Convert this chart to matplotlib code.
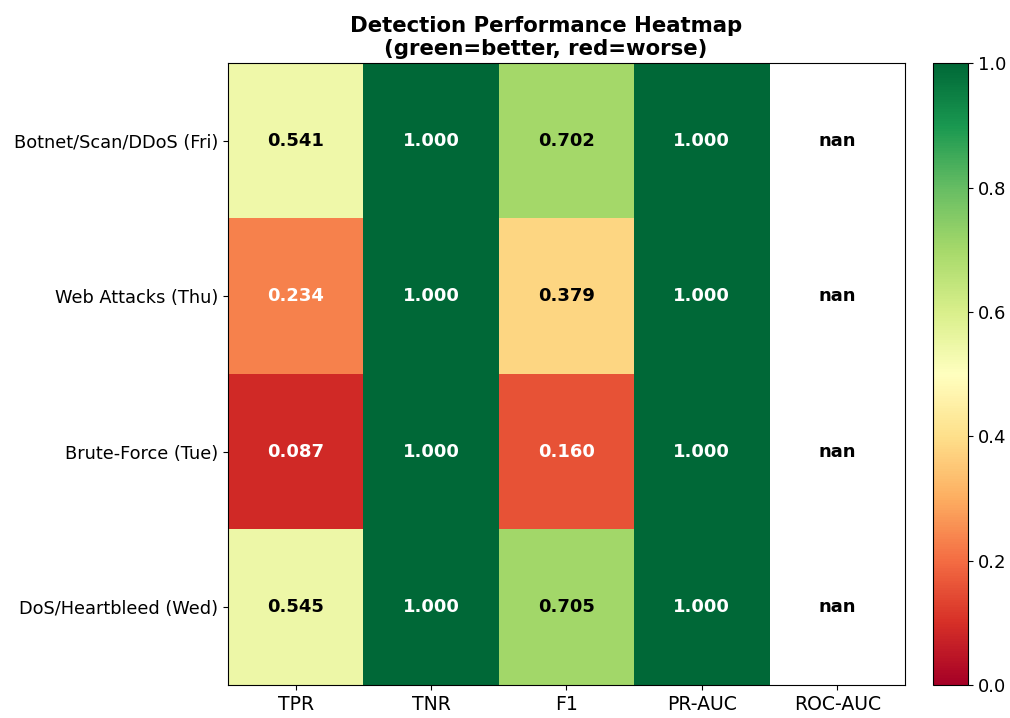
import numpy as np
import matplotlib
matplotlib.use("Agg")
import matplotlib.pyplot as plt

datasets = ["Botnet/Scan/DDoS (Fri)", "Web Attacks (Thu)", "Brute-Force (Tue)", "DoS/Heartbleed (Wed)"]
metrics = ["TPR", "TNR", "F1", "PR-AUC", "ROC-AUC"]
tpr = [0.541, 0.234, 0.087, 0.545]
tnr = [1.000, 1.000, 1.000, 1.000]
f1 = [0.702, 0.379, 0.160, 0.705]
pr_auc = [1.000, 1.000, 1.000, 1.000]
roc_auc = [np.nan, np.nan, np.nan, np.nan]

values = np.column_stack([tpr, tnr, f1, pr_auc, roc_auc])

fig = plt.figure(figsize=(10.1, 7.18), dpi=100)
ax = fig.add_axes([0.2257, 0.046, 0.6703, 0.866])
cax = fig.add_axes([0.9238, 0.046, 0.035, 0.866])

im = ax.imshow(values, cmap="RdYlGn", vmin=0, vmax=1, aspect="auto")
ax.set_xticks(range(len(metrics)))
ax.set_xticklabels(metrics, fontsize=13.6)
ax.set_yticks(range(len(datasets)))
ax.set_yticklabels(datasets, fontsize=12.8)
ax.set_title("Detection Performance Heatmap\n(green=better, red=worse)",
             fontsize=15.3, fontweight="bold", pad=6, x=0.47)

# value labels, white on the dark ends of the colormap
for i in range(values.shape[0]):
    for j in range(values.shape[1]):
        v = values[i, j]
        if np.isnan(v):
            col = "black"
        else:
            col = "white" if (v < 0.3 or v > 0.8) else "black"
        ax.text(j, i, f"{v:.3f}", ha="center", va="center",
                color=col, fontsize=13, fontweight="bold")

cb = fig.colorbar(im, cax=cax)
cb.ax.tick_params(labelsize=13)

fig.savefig("out.png", dpi=100)
